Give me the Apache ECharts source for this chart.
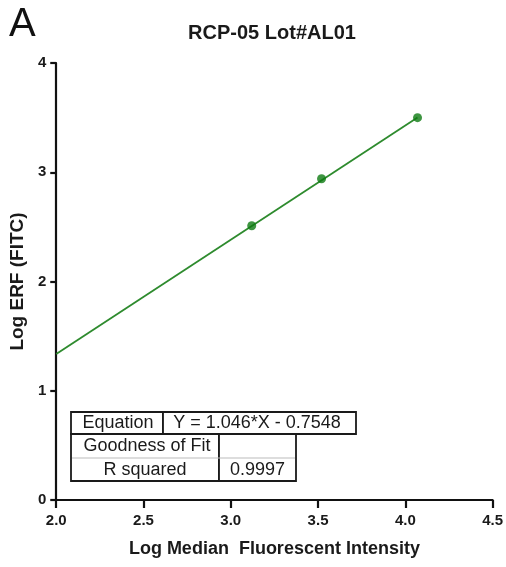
<!DOCTYPE html>
<html>
<head>
<meta charset="utf-8">
<script src="https://cdn.jsdelivr.net/npm/echarts@6/dist/echarts.min.js"></script>
<style>html,body{margin:0;padding:0;background:#fff;}#c{width:506px;height:567px;}</style>
</head>
<body>
<div id="c"></div>
<script>
var title = 'RCP-05 Lot#AL01';
var panelLabel = 'A';
var xName = 'Log Median  Fluorescent Intensity';
var yName = 'Log ERF (FITC)';
var pointsX = [3.12, 3.52, 4.07];
var pointsY = [2.51, 2.94, 3.50];
var fitX = [2.0, 4.07];
var fitY = [1.337, 3.502];
var tableRows = [['Equation', 'Y = 1.046*X - 0.7548'], ['Goodness of Fit', ''], ['R squared', '0.9997']];

var chart = echarts.init(document.getElementById('c'));
var F = 'Liberation Sans, Arial, sans-serif';
var border = '#1a1a1a';
function cellText(x, y, s) {
  return {type: 'text', x: x, y: y, style: {text: s, font: '18px ' + F, fill: '#1a1a1a', textAlign: 'center', textVerticalAlign: 'middle'}, z: 20};
}
function rect(x, y, w, h) {
  return {type: 'rect', shape: {x: x, y: y, width: w, height: h}, style: {fill: '#fff', stroke: border, lineWidth: 1.8}, z: 10};
}
var graphic = [
  {type: 'text', left: 9, top: 5, style: {text: panelLabel, font: '40px ' + F, fill: '#111'}},
  rect(71, 412, 92, 22), rect(163, 412, 193, 22),
  rect(71, 434, 148, 47), rect(219, 434, 77, 47),
  {type: 'line', shape: {x1: 72, y1: 458, x2: 295, y2: 458}, style: {stroke: '#bbb', lineWidth: 1}, z: 11},
  cellText(118, 423.5, tableRows[0][0]), cellText(257, 423.5, tableRows[0][1]),
  cellText(147, 446.5, tableRows[1][0]), cellText(257.5, 446.5, tableRows[1][1]),
  cellText(145, 470, tableRows[2][0]), cellText(257.5, 470, tableRows[2][1])
];

chart.setOption({
  animation: false,
  backgroundColor: '#fff',
  title: {text: title, left: 267, top: 18, textAlign: 'center', textStyle: {fontFamily: F, fontSize: 20, fontWeight: 'bold', color: '#1a1a1a'}},
  grid: {left: 52, right: 13, top: 63, bottom: 67},
  graphic: graphic,
  xAxis: {
    type: 'value', min: 2, max: 4.5, interval: 0.5,
    name: xName, nameLocation: 'middle', nameGap: 40,
    nameTextStyle: {fontFamily: F, fontSize: 18, fontWeight: 'bold', color: '#1a1a1a'},
    axisLine: {show: true, onZero: false, lineStyle: {color: '#111', width: 2.2}},
    axisTick: {show: true, length: 8, lineStyle: {color: '#111', width: 2.2}},
    axisLabel: {fontFamily: F, fontSize: 15, fontWeight: 'bold', color: '#1a1a1a', margin: 13, formatter: function (v) { return v.toFixed(1); }},
    splitLine: {show: false}
  },
  yAxis: {
    type: 'value', min: 0, max: 4, interval: 1,
    name: yName, nameLocation: 'middle', nameGap: 26,
    nameTextStyle: {fontFamily: F, fontSize: 19, fontWeight: 'bold', color: '#1a1a1a'},
    axisLine: {show: true, onZero: false, lineStyle: {color: '#111', width: 2.2}},
    axisTick: {show: true, length: 6, lineStyle: {color: '#111', width: 2.2}},
    axisLabel: {fontFamily: F, fontSize: 15, fontWeight: 'bold', color: '#1a1a1a', margin: 10},
    splitLine: {show: false}
  },
  series: [
    {type: 'line', data: fitX.map(function (x, i) { return [x, fitY[i]]; }), showSymbol: false, symbol: 'none',
     lineStyle: {color: '#2e8b2e', width: 1.8}, z: 2, silent: true},
    {type: 'scatter', data: pointsX.map(function (x, i) { return [x, pointsY[i]]; }), symbolSize: 9,
     itemStyle: {color: '#0e7a12'}, z: 3}
  ]
});
</script>
</body>
</html>
